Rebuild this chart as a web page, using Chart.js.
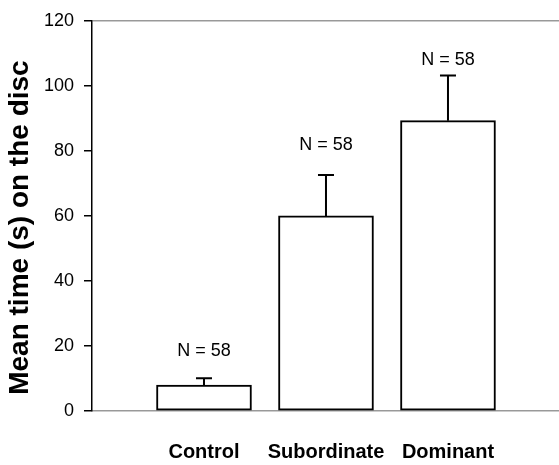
<!DOCTYPE html>
<html>
<head>
<meta charset="utf-8">
<script src="https://cdn.jsdelivr.net/npm/chart.js@4/dist/chart.umd.min.js"></script>
<style>
  html, body { margin: 0; padding: 0; background: #fff; }
  #wrap { width: 559px; height: 465px; }
</style>
</head>
<body>
<div id="wrap"><canvas id="chart"></canvas></div>
<script>
var categories = ['Control', 'Subordinate', 'Dominant'];
var meanTime = [8, 60, 89.3];
var errorTop = [10.1, 72.6, 103.2];
var sampleLabels = ['N = 58', 'N = 58', 'N = 58'];
var yTicks = [0, 20, 40, 60, 80, 100, 120];

var fontFamily = '"Liberation Sans", Arial, sans-serif';

// bars sit on a linear x axis at 1, 2, 3
var barPoints = categories.map(function(c, i) {
    return { x: i + 1, y: meanTime[i] };
});

var errorBarPlugin = {
    id: 'errorBars',
    afterDatasetsDraw: function(chart) {
        var ctx = chart.ctx;
        var xs = chart.scales.x;
        var ys = chart.scales.y;
        var labelGap = [22, 25, 10];
        ctx.save();
        ctx.strokeStyle = '#000';
        ctx.lineWidth = 2;
        for (var i = 0; i < categories.length; i++) {
            var x = xs.getPixelForValue(i + 1);
            var y0 = ys.getPixelForValue(meanTime[i]);
            var y1 = ys.getPixelForValue(errorTop[i]);
            ctx.beginPath();
            ctx.moveTo(x, y0);
            ctx.lineTo(x, y1);
            ctx.moveTo(x - 8, y1);
            ctx.lineTo(x + 8, y1);
            ctx.stroke();

            ctx.fillStyle = '#000';
            ctx.font = '18px ' + fontFamily;
            ctx.textAlign = 'center';
            ctx.textBaseline = 'alphabetic';
            ctx.fillText(sampleLabels[i], x, y1 - labelGap[i]);
        }
        ctx.restore();
    }
};

new Chart(document.getElementById('chart'), {
    type: 'bar',
    data: {
        datasets: [{
            data: barPoints,
            backgroundColor: '#fff',
            borderColor: '#000',
            borderWidth: 2,
            borderSkipped: false,
            barThickness: 95
        }]
    },
    options: {
        responsive: true,
        maintainAspectRatio: false,
        animation: false,
        layout: { padding: { top: 17, right: 0, bottom: 0, left: 0 } },
        plugins: {
            legend: { display: false },
            tooltip: { enabled: false }
        },
        scales: {
            x: {
                type: 'linear',
                offset: false,
                min: 0.082,
                max: 3.91,
                afterBuildTicks: function(scale) {
                    scale.ticks = categories.map(function(c, i) { return { value: i + 1 }; });
                },
                afterFit: function(scale) { scale.height = 54; },
                grid: { display: false, drawTicks: false },
                border: { color: '#999', width: 1.5 },
                ticks: {
                    padding: 29,
                    autoSkip: false,
                    maxRotation: 0,
                    color: '#000',
                    font: { family: fontFamily, size: 20, weight: 'bold' },
                    callback: function(v) { return categories[v - 1]; }
                }
            },
            y: {
                min: 0,
                max: 120,
                afterBuildTicks: function(scale) {
                    scale.ticks = yTicks.map(function(v) { return { value: v }; });
                },
                afterFit: function(scale) { scale.width = 92; },
                grid: {
                    color: function(c) { return c.tick && c.tick.value === 120 ? '#999' : 'rgba(0,0,0,0)'; },
                    lineWidth: 1.5,
                    tickColor: '#000',
                    tickLength: 8,
                    tickWidth: 1.5
                },
                border: { color: '#000', width: 1.5 },
                ticks: {
                    padding: 10,
                    color: '#000',
                    font: { family: fontFamily, size: 18 }
                },
                title: {
                    display: true,
                    // trailing spaces nudge the rotated title down a little
                    text: 'Mean time (s) on the disc   ',
                    color: '#000',
                    font: { family: fontFamily, size: 28, weight: 'bold' },
                    padding: { top: 3, bottom: 0 }
                }
            }
        }
    },
    plugins: [errorBarPlugin]
});
</script>
</body>
</html>
